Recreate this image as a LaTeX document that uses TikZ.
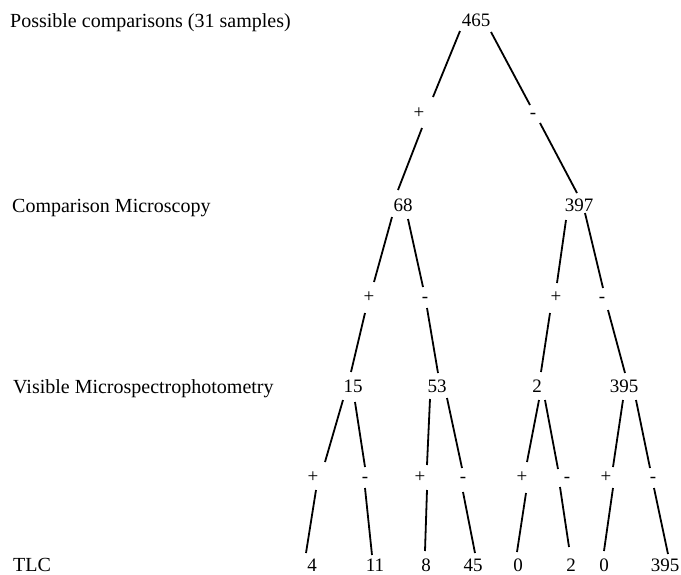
\documentclass[tikz,border=0pt]{standalone}
\usepackage{fontspec}
\setmainfont{Liberation Serif}
\begin{document}
\begin{tikzpicture}[x=1pt,y=-1pt,
  every node/.style={inner sep=0pt,font=\fontsize{19}{22}\selectfont},
  num/.style={anchor=base},
  lvl/.style={anchor=base west,font=\fontsize{20}{24}\selectfont},
  lk/.style={line width=1.8pt}]
\useasboundingbox (0,0) rectangle (681,574);
% level labels
\node[lvl] (L0) at (10,27) {Possible comparisons (31 samples)};
\node[lvl] (L1) at (12,212) {Comparison Microscopy};
\node[lvl] (L2) at (13,393) {Visible Microspectrophotometry};
\node[lvl] (L3) at (13,571) {TLC};
% level 0
\node[num] (n465) at (476,26) {465};
\node[num] (p1) at (419,118) {+};
\node[num] (m1) at (533,118) {-};
% level 1
\node[num] (n68) at (403,211) {68};
\node[num] (n397) at (579,211) {397};
\node[num] (p2a) at (369,302) {+};
\node[num] (m2a) at (425,302) {-};
\node[num] (p2b) at (556,302) {+};
\node[num] (m2b) at (602,302) {-};
% level 2
\node[num] (n15) at (353,392) {15};
\node[num] (n53) at (437,392) {53};
\node[num] (n2) at (537,392) {2};
\node[num] (n395) at (624,392) {395};
\node[num] (p3a) at (313,482) {+};
\node[num] (m3a) at (365,482) {-};
\node[num] (p3b) at (420,482) {+};
\node[num] (m3b) at (463,482) {-};
\node[num] (p3c) at (522,482) {+};
\node[num] (m3c) at (567,482) {-};
\node[num] (p3d) at (606,482) {+};
\node[num] (m3d) at (653,482) {-};
% level 3
\node[num] (t1) at (312,571) {4};
\node[num] (t2) at (375,571) {11};
\node[num] (t3) at (426,571) {8};
\node[num] (t4) at (473,571) {45};
\node[num] (t5) at (518,571) {0};
\node[num] (t6) at (571,571) {2};
\node[num] (t7) at (604,571) {0};
\node[num] (t8) at (665,571) {395};
% connectors
\draw[lk] ([shift={(-16,5)}]n465.base) -- ([shift={(14,-21)}]p1.base);
\draw[lk] ([shift={(15,6)}]n465.base) -- ([shift={(-3,-13)}]m1.base);
\draw[lk] ([shift={(3,10)}]p1.base) -- ([shift={(-5,-21)}]n68.base);
\draw[lk] ([shift={(7,5)}]m1.base) -- ([shift={(-2,-18)}]n397.base);
\draw[lk] ([shift={(-11,6)}]n68.base) -- ([shift={(5,-20)}]p2a.base);
\draw[lk] ([shift={(5,8)}]n68.base) -- ([shift={(-2,-15)}]m2a.base);
\draw[lk] ([shift={(-4,11)}]p2a.base) -- ([shift={(-2,-20)}]n15.base);
\draw[lk] ([shift={(2,6)}]m2a.base) -- ([shift={(1,-19)}]n53.base);
\draw[lk] ([shift={(-13,9)}]n397.base) -- ([shift={(1,-19)}]p2b.base);
\draw[lk] ([shift={(6,2)}]n397.base) -- ([shift={(1,-14)}]m2b.base);
\draw[lk] ([shift={(-6,11)}]p2b.base) -- ([shift={(4,-20)}]n2.base);
\draw[lk] ([shift={(6,8)}]m2b.base) -- ([shift={(1,-19)}]n395.base);
\draw[lk] ([shift={(-10,8)}]n15.base) -- ([shift={(12,-20)}]p3a.base);
\draw[lk] ([shift={(2,10)}]n15.base) -- ([shift={(0,-15)}]m3a.base);
\draw[lk] ([shift={(-7,7)}]n53.base) -- ([shift={(7,-17)}]p3b.base);
\draw[lk] ([shift={(10,6)}]n53.base) -- ([shift={(-1,-14)}]m3b.base);
\draw[lk] ([shift={(2,8)}]n2.base) -- ([shift={(5,-20)}]p3c.base);
\draw[lk] ([shift={(8,8)}]n2.base) -- ([shift={(-9,-13)}]m3c.base);
\draw[lk] ([shift={(-1,8)}]n395.base) -- ([shift={(7,-15)}]p3d.base);
\draw[lk] ([shift={(12,8)}]n395.base) -- ([shift={(-3,-14)}]m3d.base);
\draw[lk] ([shift={(3,8)}]p3a.base) -- ([shift={(-6,-18)}]t1.base);
\draw[lk] ([shift={(0,6)}]m3a.base) -- ([shift={(-3,-16)}]t2.base);
\draw[lk] ([shift={(7,8)}]p3b.base) -- ([shift={(-1,-20)}]t3.base);
\draw[lk] ([shift={(0,10)}]m3b.base) -- ([shift={(2,-18)}]t4.base);
\draw[lk] ([shift={(4,11)}]p3c.base) -- ([shift={(-1,-19)}]t5.base);
\draw[lk] ([shift={(-7,5)}]m3c.base) -- ([shift={(-2,-24)}]t6.base);
\draw[lk] ([shift={(7,6)}]p3d.base) -- ([shift={(0,-20)}]t7.base);
\draw[lk] ([shift={(1,6)}]m3d.base) -- ([shift={(3,-17)}]t8.base);
\end{tikzpicture}
\end{document}
